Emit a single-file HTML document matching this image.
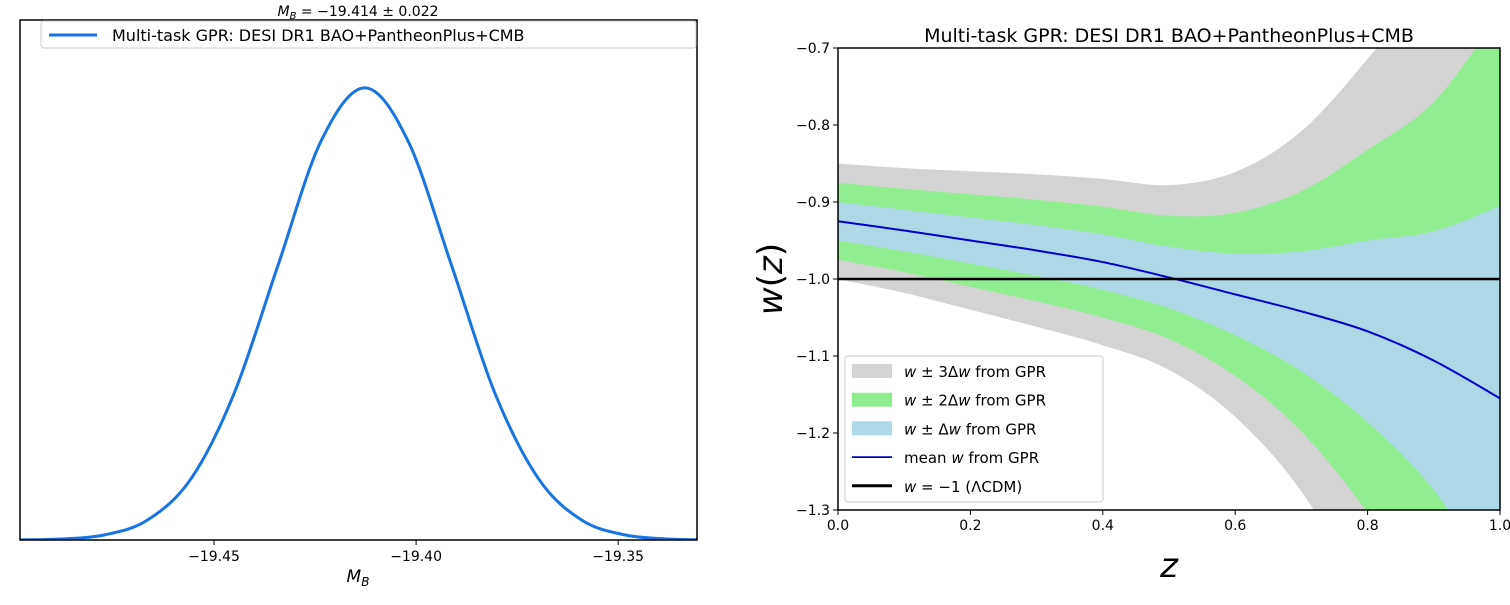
<!DOCTYPE html>
<html><head><meta charset="utf-8">
<style>
html,body{margin:0;padding:0;background:#fff;overflow:hidden;width:1510px;height:605px;}
svg{display:block;}
svg text{font-family:"DejaVu Sans","Liberation Sans",sans-serif;}
</style></head>
<body>
<svg id="c" width="1510" height="605" xmlns="http://www.w3.org/2000/svg">
<defs><clipPath id="rc"><rect x="838" y="48" width="662" height="462"/></clipPath>
<clipPath id="lc"><rect x="20" y="20" width="677" height="520"/></clipPath></defs>
<g id="left"></g>
<g id="right"></g>
</svg>
<script>
// ---- left panel data ----
const mbX = [-19.4987,-19.4880,-19.4772,-19.4665,-19.4557,-19.4450,-19.4342,-19.4235,-19.4127,-19.4020,-19.3912,-19.3805,-19.3697,-19.3590,-19.3482,-19.3375,-19.3267];
const mbDensity = [0.0003,0.0022,0.0111,0.0439,0.1353,0.3247,0.6065,0.8825,1,0.8825,0.6065,0.3247,0.1353,0.0439,0.0111,0.0022,0.0003];
const mbTicks = [-19.45,-19.40,-19.35];
const mbTickLabels = ["−19.45","−19.40","−19.35"];
// ---- right panel data ----
const zVals = [0,0.1,0.2,0.3,0.4,0.5,0.6,0.7,0.8,0.9,1.0];
const wMean = [-0.925,-0.937,-0.95,-0.963,-0.978,-0.998,-1.02,-1.042,-1.068,-1.106,-1.155];
const wSigma = [0.025,0.027,0.03,0.033,0.036,0.04,0.053,0.078,0.118,0.168,0.25];
const zTicks = [0,0.2,0.4,0.6,0.8,1.0];
const zTickLabels = ["0.0","0.2","0.4","0.6","0.8","1.0"];
const wTicks = [-0.7,-0.8,-0.9,-1.0,-1.1,-1.2,-1.3];
const wTickLabels = ["−0.7","−0.8","−0.9","−1.0","−1.1","−1.2","−1.3"];

const NS="http://www.w3.org/2000/svg";
function mk(parent,tag,attrs,text){const e=document.createElementNS(NS,tag);for(const k in attrs)e.setAttribute(k,attrs[k]);if(text!==undefined)e.textContent=text;parent.appendChild(e);return e;}
function spline(pts){let d="M"+pts[0][0]+","+pts[0][1];for(let i=0;i<pts.length-1;i++){const p0=pts[i-1]||pts[i],p1=pts[i],p2=pts[i+1],p3=pts[i+2]||p2;d+=" C"+(p1[0]+(p2[0]-p0[0])/6)+","+(p1[1]+(p2[1]-p0[1])/6)+" "+(p2[0]-(p3[0]-p1[0])/6)+","+(p2[1]-(p3[1]-p1[1])/6)+" "+p2[0]+","+p2[1];}return d;}

// LEFT
const L=document.getElementById('left');
const lx0=20,lx1=697,ly0=20,ly1=540,xmin=-19.498,xmax=-19.3305,ymax=1.15;
const lxs=v=>lx0+(v-xmin)/(xmax-xmin)*(lx1-lx0);
const lys=v=>ly1-v/ymax*(ly1-ly0);
let t=mk(L,'text',{x:358,y:16,'font-size':14,'text-anchor':'middle'},'');
t.innerHTML='<tspan font-style="italic">M</tspan><tspan font-style="italic" font-size="10" dy="3">B</tspan><tspan dy="-3"> = −19.414 ± 0.022</tspan>';


let curve=mk(L,'path',{d:spline(mbX.map((x,i)=>[lxs(x),lys(mbDensity[i])])),fill:'none',stroke:'#1874e0','stroke-width':3,'clip-path':'url(#lc)'});


let lf=mk(L,'rect',{x:lx0,y:ly0,width:lx1-lx0,height:ly1-ly0,fill:'none',stroke:'#000','stroke-width':1.5});


mbTicks.forEach((v,i)=>{const x=lxs(v);
 let tk=mk(L,'line',{x1:x,x2:x,y1:ly1,y2:ly1+5,stroke:'#000','stroke-width':1});
 
 
 let tl=mk(L,'text',{x:x,y:ly1+21,'font-size':14,'text-anchor':'middle'},mbTickLabels[i]);
 
 });
let lxl=mk(L,'text',{x:358,y:582,'font-size':17,'text-anchor':'middle'},'');
lxl.innerHTML='<tspan font-style="italic">M</tspan><tspan font-style="italic" font-size="12" dy="4">B</tspan>';


let lg=mk(L,'g',{});


mk(lg,'rect',{x:41,y:21,width:655,height:27,rx:3,fill:'#fff','fill-opacity':0.85,stroke:'#ccc'});
mk(lg,'line',{x1:49,x2:97,y1:35,y2:35,stroke:'#1874e0','stroke-width':3});
mk(lg,'text',{x:112,y:41,'font-size':16},'Multi-task GPR: DESI DR1 BAO+PantheonPlus+CMB');

// RIGHT
const R=document.getElementById('right');
const rx0=838,rx1=1500,ry0=48,ry1=510;
const rxs=v=>rx0+v*(rx1-rx0);
const rys=v=>ry0+(-0.7-v)/0.6*(ry1-ry0);
function band(k,color,name){
 const up=zVals.map((z,i)=>[rxs(z),rys(wMean[i]+k*wSigma[i])]);
 const lo=zVals.map((z,i)=>[rxs(z),rys(wMean[i]-k*wSigma[i])]).reverse();
 const d=spline(up)+" L"+lo[0][0]+","+lo[0][1]+spline(lo).slice(1).replace(/^[^C]*/,'')+" Z";
 const p=mk(R,'path',{d:d,fill:color,stroke:'none','clip-path':'url(#rc)'});
 
 
}
band(3,'#d3d3d3','band-3sigma');
band(2,'#90ee90','band-2sigma');
band(1,'#add8e6','band-1sigma');
let ml=mk(R,'path',{d:spline(zVals.map((z,i)=>[rxs(z),rys(wMean[i])])),fill:'none',stroke:'#0000cd','stroke-width':2,'clip-path':'url(#rc)'});


let lc=mk(R,'line',{x1:rx0,x2:rx1,y1:rys(-1),y2:rys(-1),stroke:'#000','stroke-width':2.5});


let rf=mk(R,'rect',{x:rx0,y:ry0,width:rx1-rx0,height:ry1-ry0,fill:'none',stroke:'#000','stroke-width':1.5});


zTicks.forEach((v,i)=>{const x=rxs(v);
 let tk=mk(R,'line',{x1:x,x2:x,y1:ry1,y2:ry1+5,stroke:'#000'});
 
 
 let tl=mk(R,'text',{x:x,y:ry1+20,'font-size':14,'text-anchor':'middle'},zTickLabels[i]);
 
 });
wTicks.forEach((v,i)=>{const y=rys(v);
 let tk=mk(R,'line',{x1:rx0-5,x2:rx0,y1:y,y2:y,stroke:'#000'});
 
 
 let tl=mk(R,'text',{x:rx0-8,y:y+5,'font-size':14,'text-anchor':'end'},wTickLabels[i]);
 
 });
let rt=mk(R,'text',{x:1169,y:42,'font-size':19,'text-anchor':'middle'},'Multi-task GPR: DESI DR1 BAO+PantheonPlus+CMB');


let yt=mk(R,'text',{x:0,y:0,'font-size':34,'text-anchor':'middle',transform:'translate(782,279) rotate(-90)'},'');
yt.innerHTML='<tspan font-style="italic">w</tspan>(<tspan font-style="italic">z</tspan>)';


let xt=mk(R,'text',{x:1169,y:577,'font-size':34,'text-anchor':'middle','font-style':'italic'},'z');


let rg=mk(R,'g',{});


mk(rg,'rect',{x:845,y:356,width:258,height:146,rx:3,fill:'#fff','fill-opacity':0.85,stroke:'#ccc'});
const items=[['#d3d3d3','patch','<tspan font-style="italic">w</tspan> ± 3Δ<tspan font-style="italic">w</tspan> from GPR'],
['#90ee90','patch','<tspan font-style="italic">w</tspan> ± 2Δ<tspan font-style="italic">w</tspan> from GPR'],
['#add8e6','patch','<tspan font-style="italic">w</tspan> ± Δ<tspan font-style="italic">w</tspan> from GPR'],
['#0000cd','line','mean <tspan font-style="italic">w</tspan> from GPR'],
['#000','thick','<tspan font-style="italic">w</tspan> = −1 (ΛCDM)']];
items.forEach((it,i)=>{const y=371+i*28.7;
 if(it[1]==='patch')mk(rg,'rect',{x:852,y:y-7,width:40,height:14,fill:it[0]});
 else mk(rg,'line',{x1:852,x2:892,y1:y,y2:y,stroke:it[0],'stroke-width':it[1]==='thick'?3:1.8});
 const tx=mk(rg,'text',{x:904,y:y+6,'font-size':15},'');tx.innerHTML=it[2];
 
 });
</script>
</body></html>
